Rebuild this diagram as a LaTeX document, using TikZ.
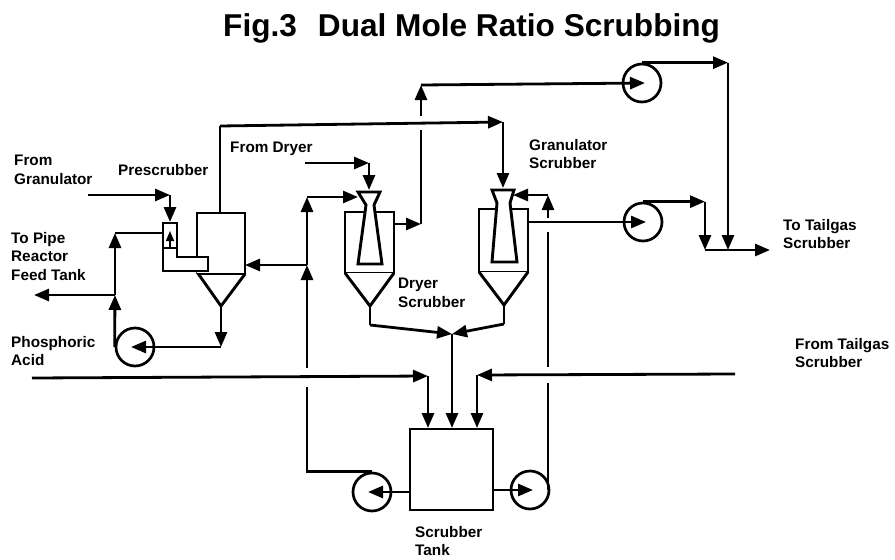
\documentclass[tikz,border=0pt]{standalone}
\usepackage{fontspec}
\setmainfont{Liberation Sans}
\usetikzlibrary{arrows.meta}
\tikzset{
  x=1pt,y=-1pt,
  pipe/.style={line width=2.8pt,line cap=square,line join=miter,black},
  flow/.style={pipe,-{Triangle[length=15pt,width=12pt]}},
  smallflow/.style={line width=1.5pt,-{Triangle[length=10pt,width=8pt]}},
  vessel/.style={line width=2.9pt,line join=miter,black,fill=white},
  pumpnode/.style={circle,draw=black,line width=2.7pt,minimum size=38pt,inner sep=0pt},
  tanknode/.style={rectangle,draw=black,line width=2.9pt,minimum width=83pt,minimum height=81pt,inner sep=0pt},
  lbl/.style={anchor=north west,inner sep=0pt,align=left,font=\bfseries\fontsize{15.3}{18.6}\selectfont},
  ttl/.style={anchor=base west,inner sep=0pt,font=\bfseries\fontsize{31.6}{34}\selectfont}
}
\begin{document}
\begin{tikzpicture}
\useasboundingbox (0,0) rectangle (895,560);
% labels
\node[ttl] (title) at (223,36.5) {Fig.3\hspace{21pt}Dual Mole Ratio Scrubbing};
\node[lbl] (lgran) at (14,155) {From\\Granulator};
\node[lbl] (lpre) at (118,164) {Prescrubber};
\node[lbl] (lpipe) at (11,232) {To Pipe\\Reactor\\Feed Tank};
\node[lbl] (lphos) at (11,336) {Phosphoric\\Acid};
\node[lbl] (ldry) at (230,142) {From Dryer};
\node[lbl] (lgs) at (529,139) {Granulator\\Scrubber};
\node[lbl] (lds) at (398,278) {Dryer\\Scrubber};
\node[lbl] (lttg) at (783,219) {To Tailgas\\Scrubber};
\node[lbl] (lftg) at (795,338) {From Tailgas\\Scrubber};
\node[lbl] (lst) at (415,526) {Scrubber\\Tank};
% equipment nodes
\node[tanknode] (tank) at (451.5,469.5) {};
\node[pumpnode] (p1) at (135,347) {};
\node[pumpnode] (p2) at (372,492) {};
\node[pumpnode] (p3) at (530,490) {};
\node[pumpnode] (p4) at (642,83) {};
\node[pumpnode] (p5) at (643,222) {};
% prescrubber
\draw[vessel] (197,272) -- (221,306) -- (245,274);
\draw[vessel] (197,257) -- (197,213) -- (245,213) -- (245,274) -- (197,274);
\draw[vessel] (163,223) -- (177,223) -- (177,257) -- (208,257) -- (208,271) -- (163,271) -- cycle;
\draw[vessel] (163,248) -- (177,248);
\coordinate (pretop) at (220,213);
\coordinate (preapex) at (221,306);
\coordinate (preside) at (245,265);
\coordinate (prevent) at (170,222);
% dryer scrubber
\draw[vessel] (345,273) -- (345,212) -- (394,212) -- (394,273) -- cycle;
\draw[vessel] (345,273) -- (370,306) -- (394,273);
\draw[vessel] (358,192) -- (380,192) -- (374,205) -- (382,264) -- (358,264) -- (366,205) -- cycle;
\coordinate (dsapex) at (370,306);
\coordinate (dsout) at (394,224);
\coordinate (dsgas) at (369,190);
\coordinate (dsliq) at (358,197);
% granulator scrubber
\draw[vessel] (479,272) -- (479,209) -- (528,209) -- (528,272) -- cycle;
\draw[vessel] (479,272) -- (504,305) -- (528,272);
\draw[vessel] (492,190) -- (514,190) -- (510,203) -- (517,262) -- (492,262) -- (497,203) -- cycle;
\coordinate (gsapex) at (504,305);
\coordinate (gsout) at (528,222);
\coordinate (gsgas) at (503,188);
\coordinate (gsliq) at (513,195);
% waypoints
\coordinate (g0) at (88,195); \coordinate (g1) at (170,195);
\coordinate (r1) at (115,295); \coordinate (r2) at (115,233); \coordinate (rv) at (163,233);
\coordinate (pipeend) at (34,295);
\coordinate (preb) at (221,347);
\coordinate (c0) at (220,126); \coordinate (c1) at (503,122);
\coordinate (d0) at (305,163); \coordinate (d1) at (369,163);
\coordinate (m0) at (307,368); \coordinate (m1) at (307,265); \coordinate (m2) at (307,197);
\coordinate (m3) at (307,387);
\coordinate (u0) at (421,224); \coordinate (u1) at (421,130); \coordinate (u2) at (421,116); \coordinate (u3) at (421,85);
\coordinate (u4) at (645,83);
\coordinate (t0) at (728,63); \coordinate (t1) at (728,250);
\coordinate (v0) at (705,202); \coordinate (v1) at (705,250); \coordinate (out) at (770,250);
\coordinate (b0) at (370,325); \coordinate (b1) at (504,324); \coordinate (bj) at (452,334);
\coordinate (ph0) at (32,378); \coordinate (ph1) at (428,376);
\coordinate (tg0) at (735,374); \coordinate (tg1) at (477,375);
\coordinate (l0) at (548,490); \coordinate (l1) at (548,383); \coordinate (l2) at (548,367);
\coordinate (l3) at (548,232); \coordinate (l4) at (548,218); \coordinate (l5) at (548,195);
% from granulator
\draw[flow] (g0) -- (g1);
\draw[flow] (g1) -- (prevent);
% prescrubber loop
\draw[flow] (preapex) -- (preb);
\draw[flow] (preb) -- (131,347);
\draw[flow] (p1.west) -- (r1);
\draw[flow] (r1) -- (r2);
\draw[pipe] (r2) -- (rv);
\draw[flow] (r1) -- (pipeend);
\draw[smallflow] (170,247) -- (170,231);
% top crossing line
\draw[pipe] (pretop) -- (c0);
\draw[flow] (c0) -- (c1);
\draw[flow] (c1) -- (gsgas);
% dryer feed
\draw[flow] (d0) -- (d1);
\draw[flow] (d1) -- (dsgas);
% left recycle
\draw[flow] (m0) -- (m1);
\draw[flow] (m1) -- (m2);
\draw[flow] (m2) -- (dsliq);
\draw[flow] (m1) -- (preside);
\draw[pipe] (m3) -- (m3 |- p2.north) -- (p2.north);
\draw[flow] (tank.west |- p2) -- (368,492);
% dryer scrubber gas
\draw[flow] (dsout) -- (u0);
\draw[pipe] (u0) -- (u1);
\draw[flow] (u2) -- (u3);
\draw[flow] (u3) -- (u4);
\draw[flow] (p4.north) -- (p4.north -| t0);
\draw[flow] (t0 |- p4.north) -- (t1);
% granulator scrubber gas
\draw[flow] (gsout) -- (646,222);
\draw[flow] (p5.north) -- (p5.north -| v0);
\draw[flow] (v0 |- p5.north) -- (v1);
\draw[flow] (v1) -- (out);
% underflow to tank
\draw[pipe] (dsapex) -- (b0);
\draw[flow] (b0) -- (bj);
\draw[pipe] (gsapex) -- (b1);
\draw[flow] (b1) -- (bj);
\draw[flow] (bj) -- (452,428);
\draw[flow] (ph0) -- (ph1);
\draw[flow] (ph1) -- (428,428);
\draw[flow] (tg0) -- (tg1);
\draw[flow] (tg1) -- (477,428);
% right recycle
\draw[flow] (tank.east |- p3) -- (533,490);
\draw[pipe] (l0) -- (l1);
\draw[pipe] (l2) -- (l3);
\draw[flow] (l4) -- (l5);
\draw[flow] (l5) -- (gsliq);
\end{tikzpicture}
\end{document}
